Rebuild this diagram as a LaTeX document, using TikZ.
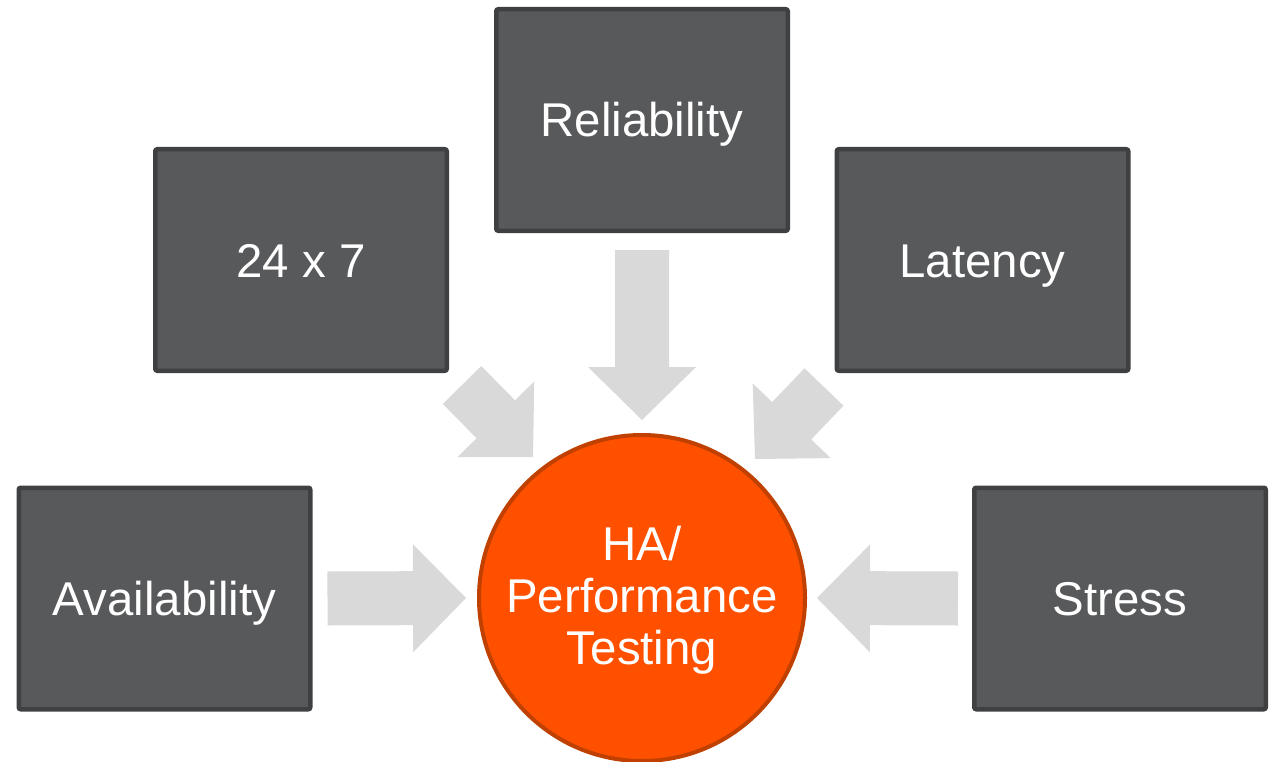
\documentclass[tikz,border=0pt]{standalone}
\usepackage{fontspec}
\setmainfont{Liberation Sans}
\usetikzlibrary{calc}

\definecolor{boxfill}{HTML}{58595B}
\definecolor{boxline}{HTML}{3F4042}
\definecolor{arrowgray}{HTML}{D9D9D9}
\definecolor{hubfill}{HTML}{FF5000}
\definecolor{hubline}{HTML}{C04000}

% block arrow from #1 (tail) to #2 (tip): shaft half-width 27, head half-width 54, head length 53
\newcommand{\blockarrow}[2]{%
  \coordinate (ba-base) at ($(#2)!53pt!(#1)$);
  \fill[arrowgray]
    ($(#1)!27pt!90:(#2)$) -- ($(ba-base)!27pt!90:(#2)$) -- ($(ba-base)!54pt!90:(#2)$)
    -- (#2)
    -- ($(ba-base)!54pt!-90:(#2)$) -- ($(ba-base)!27pt!-90:(#2)$) -- ($(#1)!27pt!-90:(#2)$)
    -- cycle;
}

\begin{document}
\begin{tikzpicture}[x=1pt,y=-1pt,
  topic/.style={draw=boxline, line width=4.5pt, fill=boxfill, rounded corners=2pt,
    minimum width=291.5pt, minimum height=221.5pt, inner sep=0pt,
    text height=34pt, text depth=0pt,
    text=white, font=\fontsize{47.4}{52}\selectfont},
  hub/.style={circle, draw=hubline, line width=4pt, fill=hubfill,
    minimum size=326pt, inner sep=0pt, align=center,
    text=white, font=\fontsize{47.4}{52}\selectfont}]
\useasboundingbox (0,0) rectangle (1273,762);

% topic boxes
\node[topic] (rel)   at (642,120)   {Reliability};
\node[topic] (tfs)   at (301,260)   {24 x 7};
\node[topic] (lat)   at (982.5,260) {Latency};
\node[topic] (avail) at (164.5,598.5) {Availability};
\node[topic] (stress) at (1120,598.5) {Stress};

% central circle
\node[hub] (hub) at (642,598) {};
\node[align=center, text=white, font=\fontsize{47.4}{52}\selectfont, inner sep=0pt]
  (hubtext) at (642,600) {HA/\\Performance\\Testing};

% arrow ends
\coordinate (relOut)    at ($(rel.south)+(0,17)$);
\coordinate (hubTop)    at ($(hub.north)+(0,-13)$);
\coordinate (tfsOut)    at (462,385);
\coordinate (hubUL)     at (533,457);
\coordinate (latOut)    at (824,387);
\coordinate (hubUR)     at (755,459);
\coordinate (availOut)  at ($(avail.east)+(15,0)$);
\coordinate (hubLeft)   at ($(hub.west)+(-11,0)$);
\coordinate (stressOut) at ($(stress.west)+(-14,0)$);
\coordinate (hubRight)  at ($(hub.east)+(10,0)$);

% arrows into the circle
\blockarrow{relOut}{hubTop}
\blockarrow{tfsOut}{hubUL}
\blockarrow{latOut}{hubUR}
\blockarrow{availOut}{hubLeft}
\blockarrow{stressOut}{hubRight}
\end{tikzpicture}
\end{document}
